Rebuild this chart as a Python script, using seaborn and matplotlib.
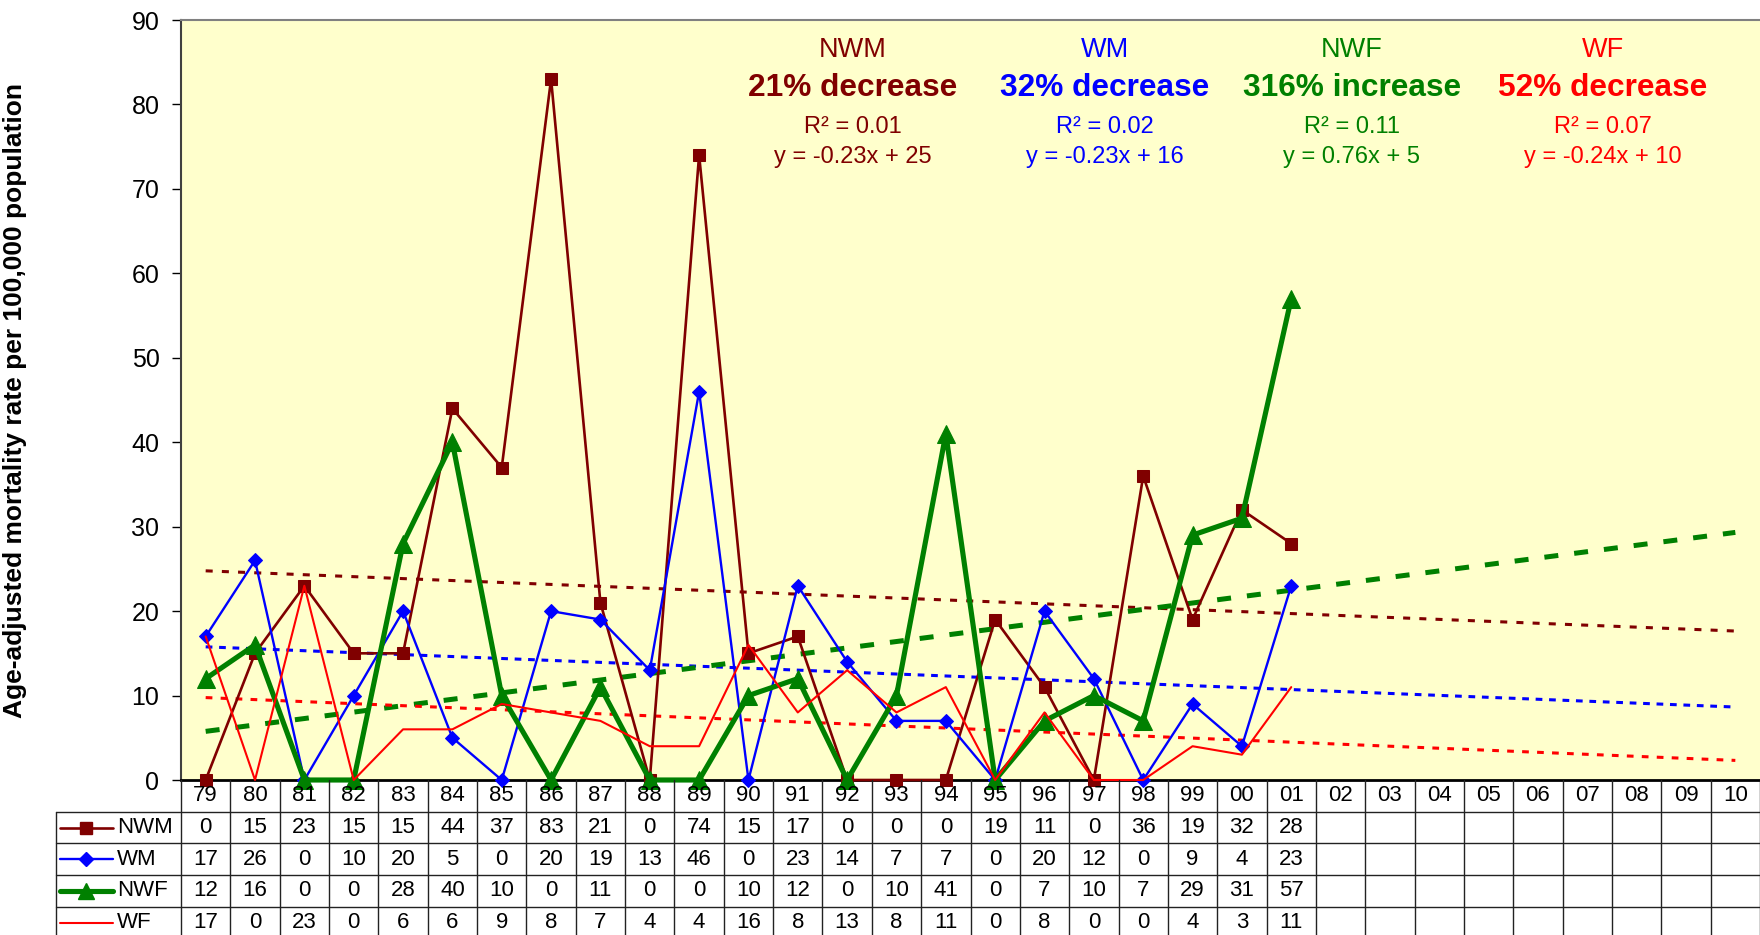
import numpy as np
import pandas as pd
import matplotlib
matplotlib.use("Agg")
import matplotlib.pyplot as plt
import seaborn as sns
from matplotlib.lines import Line2D

# ---- data -------------------------------------------------------------
years = ["79", "80", "81", "82", "83", "84", "85", "86", "87", "88", "89",
         "90", "91", "92", "93", "94", "95", "96", "97", "98", "99", "00",
         "01", "02", "03", "04", "05", "06", "07", "08", "09", "10"]

nwm = [0, 15, 23, 15, 15, 44, 37, 83, 21, 0, 74, 15, 17, 0, 0, 0, 19, 11, 0, 36, 19, 32, 28]
wm = [17, 26, 0, 10, 20, 5, 0, 20, 19, 13, 46, 0, 23, 14, 7, 7, 0, 20, 12, 0, 9, 4, 23]
nwf = [12, 16, 0, 0, 28, 40, 10, 0, 11, 0, 0, 10, 12, 0, 10, 41, 0, 7, 10, 7, 29, 31, 57]
wf = [17, 0, 23, 0, 6, 6, 9, 8, 7, 4, 4, 16, 8, 13, 8, 11, 0, 8, 0, 0, 4, 3, 11]

series_names = ["NWM", "WM", "NWF", "WF"]
series_values = [nwm, wm, nwf, wf]

# linear trend y = slope * x + intercept, x = 1 for 1979
trend_slopes = [-0.23, -0.23, 0.76, -0.24]
trend_intercepts = [25, 16, 5, 10]

change_text = ["21% decrease", "32% decrease", "316% increase", "52% decrease"]
r2_text = ["0.01", "0.02", "0.11", "0.07"]
eq_text = ["y = -0.23x + 25", "y = -0.23x + 16", "y = 0.76x + 5", "y = -0.24x + 10"]

# ---- styling ----------------------------------------------------------
colors = {"NWM": "#800000", "WM": "#0000FF", "NWF": "#008000", "WF": "#FF0000"}
markers = {"NWM": "s", "WM": "D", "NWF": "^", "WF": None}
msizes = {"NWM": 8.5, "WM": 7.0, "NWF": 13.0, "WF": 0}
lwidths = {"NWM": 1.9, "WM": 1.7, "NWF": 3.7, "WF": 1.5}
trend_lw = {"NWM": 2.2, "WM": 2.2, "NWF": 3.6, "WF": 2.2}
trend_ls = {"NWM": (0, (2.3, 3.0)), "WM": (0, (2.2, 2.2)),
            "NWF": (0, (2.8, 3.2)), "WF": (0, (2.2, 2.7))}

sns.set_theme(style="white")
plt.rcParams["font.family"] = ["Liberation Sans", "DejaVu Sans"]

W, H = 1760, 935
fig = plt.figure(figsize=(W / 100, H / 100), dpi=100)
fig.patch.set_facecolor("white")

left_px, top_px, bottom_px = 181, 20, 780
ax = fig.add_axes([left_px / W, 1 - bottom_px / H, 1 - left_px / W, (bottom_px - top_px) / H])
ax.set_facecolor("#FFFFCC")

n_cat = len(years)
idx_all = np.arange(n_cat)

# trend lines over the whole period
for name, m, b in zip(series_names, trend_slopes, trend_intercepts):
    tdf = pd.DataFrame({"x": idx_all, "y": m * (idx_all + 1) + b})
    sns.lineplot(data=tdf, x="x", y="y", ax=ax, color=colors[name],
                 linewidth=trend_lw[name], linestyle=trend_ls[name], zorder=2)

# data series
for name, vals in zip(series_names, series_values):
    df = pd.DataFrame({"x": np.arange(len(vals)), "y": vals})
    kw = dict(color=colors[name], linewidth=lwidths[name], zorder=3)
    if markers[name]:
        kw.update(marker=markers[name], markersize=msizes[name],
                  markeredgecolor=colors[name], markerfacecolor=colors[name])
    sns.lineplot(data=df, x="x", y="y", ax=ax, clip_on=False, **kw)

ax.set_xlim(-0.5, n_cat - 0.5)
ax.set_ylim(0, 90)
ax.set_yticks(np.arange(0, 91, 10))
ax.set_xticks([])
ax.set_xlabel("")
ax.set_ylabel("Age-adjusted mortality rate per 100,000 population",
              fontsize=19, fontweight="bold", color="black")
ax.yaxis.set_label_coords(-0.0975, 0.5)
ax.tick_params(axis="y", direction="out", length=6.5, width=1, color="black",
               labelsize=18, pad=9, left=True, labelcolor="black")

ax.spines["right"].set_visible(False)
ax.spines["top"].set_color("#808080")
ax.spines["top"].set_linewidth(1.5)
ax.spines["left"].set_color("#404040")
ax.spines["left"].set_linewidth(1.5)
ax.spines["bottom"].set_color("black")
ax.spines["bottom"].set_linewidth(2)

# trend summaries
x_frac = [0.4256, 0.585, 0.7416, 0.9006]
for i, name in enumerate(series_names):
    c = colors[name]
    ax.text(x_frac[i], 0.9605, name, transform=ax.transAxes, ha="center",
            va="center", fontsize=19.5, color=c)
    ax.text(x_frac[i], 0.9105, change_text[i], transform=ax.transAxes, ha="center",
            va="center", fontsize=22.8, fontweight="bold", color=c)
    ax.text(x_frac[i], 0.859, "R\u00b2 = " + r2_text[i], transform=ax.transAxes,
            ha="center", va="center", fontsize=17, color=c)
    ax.text(x_frac[i], 0.8197, eq_text[i], transform=ax.transAxes, ha="center",
            va="center", fontsize=17, color=c)

# ---- data table below the plot --------------------------------------
row_h = 31.7
tab_h = H - bottom_px
n_rows_vis = tab_h / row_h
tab = fig.add_axes([left_px / W, 0, 1 - left_px / W, tab_h / H])
tab.set_xlim(-0.5, n_cat - 0.5)
tab.set_ylim(n_rows_vis, 0)
tab.axis("off")

col_w_px = (W - left_px) / n_cat
lab_left = -0.5 - (left_px - 56) / col_w_px
grid_kw = dict(color="#222222", linewidth=1.0, clip_on=False)

for k in range(n_cat + 1):
    tab.plot([-0.5 + k, -0.5 + k], [0, n_rows_vis], **grid_kw)
tab.plot([lab_left, lab_left], [1, n_rows_vis], **grid_kw)
for r in range(1, 5):
    tab.plot([lab_left, n_cat - 0.5], [r, r], **grid_kw)

table_fs = 16
for i, yr in enumerate(years):
    tab.text(i, 0.5, yr, ha="center", va="center", fontsize=table_fs, color="black")

key_x0 = -0.5 - (left_px - 60) / col_w_px
key_x1 = -0.5 - (left_px - 113) / col_w_px
key_xm = -0.5 - (left_px - 86) / col_w_px
key_ms = {"NWM": 8.5, "WM": 7.0, "NWF": 11.0, "WF": 0}
for r, (name, vals) in enumerate(zip(series_names, series_values), start=1):
    for i, v in enumerate(vals):
        tab.text(i, r + 0.5, str(v), ha="center", va="center", fontsize=table_fs,
                 color="black")
    # legend key inside the label cell
    tab.add_line(Line2D([key_x0, key_x1], [r + 0.5, r + 0.5], color=colors[name],
                        linewidth=lwidths[name], clip_on=False))
    if markers[name]:
        tab.add_line(Line2D([key_xm], [r + 0.5], marker=markers[name],
                            markersize=key_ms[name], color=colors[name],
                            linestyle="none", clip_on=False))
    tab.text(-0.5 - (left_px - 117) / col_w_px, r + 0.5, name, ha="left",
             va="center", fontsize=16, color="black")

fig.savefig("out.png", dpi=100, facecolor="white")
